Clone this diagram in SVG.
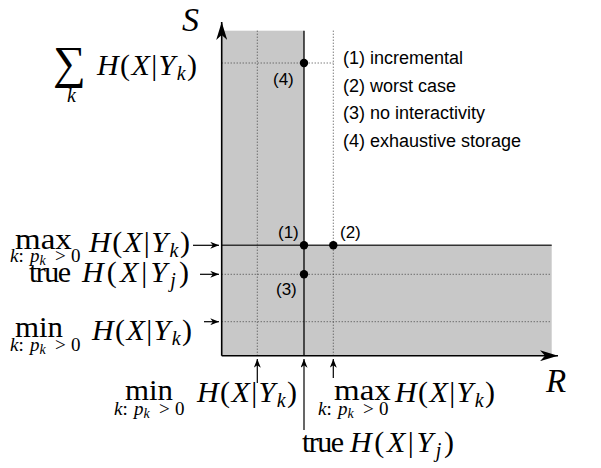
<svg xmlns="http://www.w3.org/2000/svg" width="601" height="468" viewBox="0 0 601 468">
<style>
.m{font-family:"Liberation Serif","Times New Roman",serif;font-size:30px;fill:#000}
.i{font-style:italic}
.s{font-size:20px}
.sub{font-family:"Liberation Serif","Times New Roman",serif;font-size:19px;fill:#000}
.ss{font-size:14px}
.t{font-family:"Liberation Sans",Arial,sans-serif;font-size:18px;fill:#000}
.tl{font-family:"Liberation Sans",Arial,sans-serif;font-size:17px;fill:#000}
.dot{stroke:#444;stroke-width:1;stroke-dasharray:1 2;fill:none}
.arr{stroke:#000;stroke-width:1.2;fill:none;marker-end:url(#ah)}
.ax{stroke:#000;stroke-width:1.6;fill:none;marker-end:url(#big)}
</style>
<defs>
<marker id="ah" viewBox="0 0 10 8" refX="10" refY="4" markerWidth="9" markerHeight="7" markerUnits="userSpaceOnUse" orient="auto">
<path d="M0,0 L10,4 L0,8 L3,4 z" fill="#000"/>
</marker>
<marker id="big" viewBox="0 0 18 11" refX="18" refY="5.5" markerWidth="18" markerHeight="11" markerUnits="userSpaceOnUse" orient="auto">
<path d="M0,0 L18,5.5 L0,11 L5,5.5 z" fill="#000"/>
</marker>
</defs>
<rect width="601" height="468" fill="#fff"/>
<g id="region">
<rect x="221.7" y="30.7" width="82.3" height="325" fill="#c8c8c8"/>
<rect x="221.7" y="245" width="330" height="110.7" fill="#c8c8c8"/>
</g>
<g id="guides">
<line class="dot" x1="257.3" y1="30.7" x2="257.3" y2="355"/>
<line class="dot" x1="333.3" y1="30.7" x2="333.3" y2="355"/>
<line class="dot" x1="221.7" y1="63" x2="333.3" y2="63"/>
<line class="dot" x1="221.7" y1="274.3" x2="551.7" y2="274.3"/>
<line class="dot" x1="221.7" y1="321.7" x2="551.7" y2="321.7"/>
<line x1="304" y1="30.7" x2="304" y2="355.7" stroke="#000" stroke-width="1.3"/>
<line x1="221.7" y1="245.3" x2="551.7" y2="245.3" stroke="#333" stroke-width="1.5"/>
</g>
<g id="axes">
<line class="ax" x1="221.7" y1="355.7" x2="221.7" y2="22"/>
<line class="ax" x1="221.7" y1="355.7" x2="558" y2="355.7"/>
<text class="m i" x="182" y="31" style="font-size:34px">S</text>
<text class="m i" x="546" y="392" style="font-size:33px">R</text>
</g>
<g id="connectors">
<line class="arr" x1="193" y1="245.3" x2="219" y2="245.3"/>
<line class="arr" x1="200" y1="274.3" x2="219" y2="274.3"/>
<line class="arr" x1="204" y1="321.7" x2="219" y2="321.7"/>
<line class="arr" x1="257.3" y1="383" x2="257.3" y2="359"/>
<line class="arr" x1="304" y1="430" x2="304" y2="359"/>
<line class="arr" x1="333.3" y1="378" x2="333.3" y2="359"/>
</g>
<g id="point-1">
<circle cx="304" cy="245.3" r="4.2"/>
<text class="tl" x="278" y="238">(1)</text>
</g>
<g id="point-2">
<circle cx="333.3" cy="245.3" r="4.2"/>
<text class="tl" x="340" y="238">(2)</text>
</g>
<g id="point-3">
<circle cx="304" cy="274.3" r="4.2"/>
<text class="tl" x="276" y="295">(3)</text>
</g>
<g id="point-4">
<circle cx="304" cy="63" r="4.2"/>
<text class="tl" x="273" y="85">(4)</text>
</g>
<g id="legend">
<text class="t" x="343" y="64">(1) incremental</text>
<text class="t" x="343" y="92">(2) worst case</text>
<text class="t" x="343" y="119">(3) no interactivity</text>
<text class="t" x="343" y="147">(4) exhaustive storage</text>
</g>
<g id="label-sum">
<text class="m" x="53" y="78" style="font-size:46px">∑</text>
<text class="m i s" x="67" y="102">k</text>
<text class="m" x="97" y="75" textLength="100" lengthAdjust="spacing"><tspan class="i">H</tspan>(<tspan class="i">X</tspan>|<tspan class="i">Y</tspan><tspan class="i s" dy="5">k</tspan><tspan dy="-5">)</tspan></text>
</g>
<g id="label-max-left">
<text class="m" transform="translate(15,249) scale(1.1,1)">max</text>
<text class="sub" y="262"><tspan x="10" class="i">k</tspan>:<tspan x="30" class="i">p</tspan><tspan class="i ss" dy="3">k</tspan><tspan x="55" dy="-3">&gt;</tspan><tspan x="71">0</tspan></text>
<text class="m" x="89" y="252" textLength="101" lengthAdjust="spacing"><tspan class="i">H</tspan>(<tspan class="i">X</tspan>|<tspan class="i">Y</tspan><tspan class="i s" dy="5">k</tspan><tspan dy="-5">)</tspan></text>
</g>
<g id="label-true-left">
<text class="m" x="29" y="282" textLength="42" lengthAdjust="spacing">true</text>
<text class="m" x="82" y="282" textLength="107" lengthAdjust="spacing"><tspan class="i">H</tspan>(<tspan class="i">X</tspan>|<tspan class="i">Y</tspan><tspan class="i s" dy="5">j</tspan><tspan dy="-5">)</tspan></text>
</g>
<g id="label-min-left">
<text class="m" transform="translate(15,337) scale(1.03,1)">min</text>
<text class="sub" y="351"><tspan x="10" class="i">k</tspan>:<tspan x="30" class="i">p</tspan><tspan class="i ss" dy="3">k</tspan><tspan x="55" dy="-3">&gt;</tspan><tspan x="71">0</tspan></text>
<text class="m" x="92" y="340" textLength="100" lengthAdjust="spacing"><tspan class="i">H</tspan>(<tspan class="i">X</tspan>|<tspan class="i">Y</tspan><tspan class="i s" dy="5">k</tspan><tspan dy="-5">)</tspan></text>
</g>
<g id="label-min-bottom">
<text class="m" transform="translate(125,400) scale(1.03,1)">min</text>
<text class="sub" y="415"><tspan x="114" class="i">k</tspan>:<tspan x="134" class="i">p</tspan><tspan class="i ss" dy="3">k</tspan><tspan x="159" dy="-3">&gt;</tspan><tspan x="175">0</tspan></text>
<text class="m" x="197" y="402" textLength="100" lengthAdjust="spacing"><tspan class="i">H</tspan>(<tspan class="i">X</tspan>|<tspan class="i">Y</tspan><tspan class="i s" dy="5">k</tspan><tspan dy="-5">)</tspan></text>
</g>
<g id="label-max-bottom">
<text class="m" transform="translate(334,400) scale(1.1,1)">max</text>
<text class="sub" y="415"><tspan x="318" class="i">k</tspan>:<tspan x="338" class="i">p</tspan><tspan class="i ss" dy="3">k</tspan><tspan x="363" dy="-3">&gt;</tspan><tspan x="379">0</tspan></text>
<text class="m" x="395" y="402" textLength="100" lengthAdjust="spacing"><tspan class="i">H</tspan>(<tspan class="i">X</tspan>|<tspan class="i">Y</tspan><tspan class="i s" dy="5">k</tspan><tspan dy="-5">)</tspan></text>
</g>
<g id="label-true-bottom">
<text class="m" x="302" y="452" textLength="42" lengthAdjust="spacing">true</text>
<text class="m" x="350" y="452" textLength="104" lengthAdjust="spacing"><tspan class="i">H</tspan>(<tspan class="i">X</tspan>|<tspan class="i">Y</tspan><tspan class="i s" dy="5">j</tspan><tspan dy="-5">)</tspan></text>
</g>
</svg>
